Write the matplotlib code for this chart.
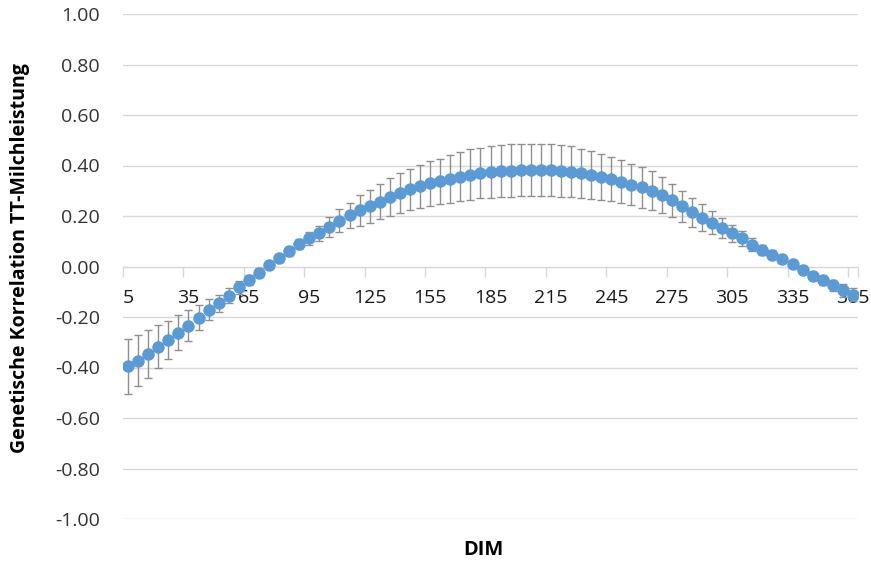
import numpy as np
import matplotlib
matplotlib.use('Agg')
import matplotlib.pyplot as plt

# DIM (days in milk), 5..365 step 5
dim = list(range(5, 370, 5))

# genetic correlation per DIM
corr = [
    -0.396, -0.373, -0.345, -0.317, -0.290, -0.262, -0.234, -0.203, -0.171, -0.146,
    -0.115, -0.083, -0.052, -0.024, 0.004, 0.035, 0.060, 0.090, 0.111, 0.131,
    0.158, 0.182, 0.202, 0.222, 0.238, 0.257, 0.274, 0.290, 0.305, 0.317,
    0.329, 0.337, 0.348, 0.356, 0.364, 0.370, 0.374, 0.377, 0.380, 0.382,
    0.383, 0.383, 0.382, 0.380, 0.376, 0.369, 0.363, 0.354, 0.346, 0.336,
    0.324, 0.313, 0.300, 0.282, 0.262, 0.238, 0.214, 0.194, 0.174, 0.151,
    0.131, 0.111, 0.087, 0.067, 0.047, 0.028, 0.008, -0.012, -0.036, -0.055,
    -0.075, -0.095, -0.111,
]

# standard errors (half length of error bars)
se = [
    0.110, 0.100, 0.095, 0.085, 0.075, 0.068, 0.060, 0.050, 0.042, 0.035,
    0.030, 0.025, 0.020, 0.018, 0.015, 0.015, 0.017, 0.020, 0.025, 0.030,
    0.040, 0.047, 0.050, 0.060, 0.065, 0.070, 0.075, 0.080, 0.082, 0.085,
    0.090, 0.090, 0.095, 0.098, 0.100, 0.100, 0.102, 0.103, 0.104, 0.104,
    0.104, 0.104, 0.104, 0.103, 0.100, 0.098, 0.095, 0.090, 0.087, 0.085,
    0.082, 0.080, 0.078, 0.072, 0.066, 0.060, 0.057, 0.054, 0.047, 0.040,
    0.035, 0.030, 0.025, 0.020, 0.018, 0.016, 0.015, 0.015, 0.016, 0.018,
    0.022, 0.025, 0.025,
]

x_labels = list(range(5, 370, 30))
y_ticks = [-1.0, -0.8, -0.6, -0.4, -0.2, 0.0, 0.2, 0.4, 0.6, 0.8, 1.0]

plt.rcParams['font.family'] = ['Open Sans', 'DejaVu Sans']

fig = plt.figure(figsize=(8.71, 5.63), dpi=100)
ax = fig.add_axes([123 / 871, 1 - 519 / 563, 735 / 871, 505 / 563])

ax.errorbar(dim, corr, yerr=se, fmt='o', color='#5B9BD5', ms=8,
            ecolor='#8f8f8f', elinewidth=1.0, capsize=3, capthick=1.0, zorder=3)

ax.set_xlim(2.5, 367.5)
ax.set_ylim(-1.0, 1.0)
ax.set_yticks(y_ticks)
ax.set_yticklabels([f'{v:.2f}' for v in y_ticks], fontsize=14, color='#333333')
ax.tick_params(axis='y', length=0, pad=16.5)
ax.grid(axis='y', color='#d9d9d9', linewidth=1.0)
ax.set_axisbelow(True)

# category style axis crossing at zero
ax.spines['bottom'].set_position(('data', 0))
ax.spines['bottom'].set_color('#d9d9d9')
for sp in ('top', 'right', 'left'):
    ax.spines[sp].set_visible(False)
ax.set_xticks(x_labels)
ax.set_xticklabels([str(v) for v in x_labels], fontsize=14, color='#1a1a1a')
ax.tick_params(axis='x', length=0, pad=16)
ax.set_xticks([v - 2.5 for v in x_labels] + [367.5], minor=True)
ax.tick_params(axis='x', which='minor', length=7, color='#d9d9d9', width=1.0)

fig.text(20 / 871, 1 - 258 / 563, 'Genetische Korrelation TT-Milchleistung',
         rotation=90, ha='center', va='center', fontsize=14, fontweight='bold')
fig.text(483 / 871, 1 - 550 / 563, 'DIM', ha='center', va='center',
         fontsize=14.5, fontweight='bold')

fig.savefig('out.png', dpi=100)
